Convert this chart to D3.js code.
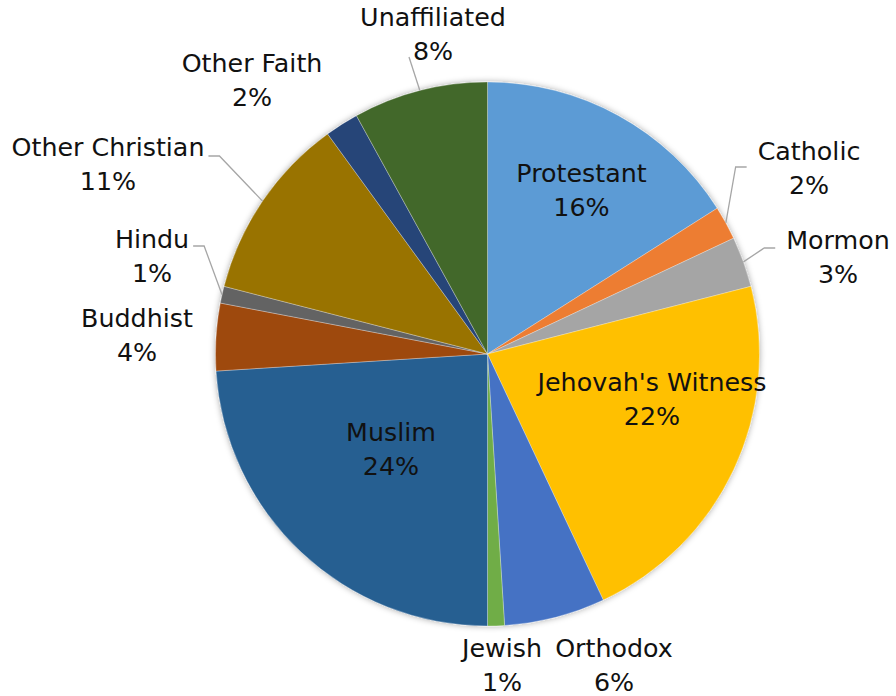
<!DOCTYPE html>
<html>
<head>
<meta charset="utf-8">
<script src="https://cdn.jsdelivr.net/npm/d3@7"></script>
<style>
  body { margin: 0; background: #fff; }
  svg { display: block; }
</style>
</head>
<body>
<svg id="canvas" width="896" height="696"></svg>
<script>
// chart data, clockwise from 12 o'clock
let categories = ["Protestant", "Catholic", "Mormon", "Jehovah's Witness", "Orthodox", "Jewish",
                  "Muslim", "Buddhist", "Hindu", "Other Christian", "Other Faith", "Unaffiliated"];
let shares = [16, 2, 3, 22, 6, 1, 24, 4, 1, 11, 2, 8];
let colors = ["#5b9bd5", "#ed7d31", "#a5a5a5", "#ffc000", "#4472c4", "#70ad47",
              "#255e91", "#9e480e", "#636363", "#997300", "#264478", "#43682b"];

// label placement relative to the pie centre (first-line baseline), leader side
let labelLayout = {
    "Protestant":        { dx: 94,     dy: -172 },
    "Catholic":          { dx: 321.5,  dy: -194, leader: 'left',  ly: 7 },
    "Mormon":            { dx: 350.5,  dy: -105, leader: 'left',  ly: -1 },
    "Jehovah's Witness": { dx: 164.5,  dy: 37 },
    "Orthodox":          { dx: 126.5,  dy: 303 },
    "Jewish":            { dx: 14.5,   dy: 303 },
    "Muslim":            { dx: -96.5,  dy: 87 },
    "Buddhist":          { dx: -350.5, dy: -27 },
    "Hindu":             { dx: -335.5, dy: -106, leader: 'right', ly: -2 },
    "Other Christian":   { dx: -379.5, dy: -198, leader: 'right', ly: 0 },
    "Other Faith":       { dx: -235.5, dy: -282 },
    "Unaffiliated":      { dx: -54.5,  dy: -328, leader: 'down' }
};

let cx = 487.5, cy = 354, radius = 272;
let lineGap = 34;
let fontFamily = "'DejaVu Sans', sans-serif";

let canvas = d3.select("#canvas");

let defs = canvas.append('defs');
defs.append('filter')
    .attr('id', 'shadow')
    .attr('x', '-10%').attr('y', '-10%')
    .attr('width', '120%').attr('height', '120%')
    .append('feDropShadow')
    .attr('dx', 0).attr('dy', 0)
    .attr('stdDeviation', 3)
    .attr('flood-color', '#000')
    .attr('flood-opacity', 0.35);

let slices = categories.map((name, i) => {
    return { name: name, value: shares[i], color: colors[i] };
});

let pie = d3.pie().sort(null).value((d) => d.value);
let arcs = pie(slices);

let arc = d3.arc().innerRadius(0).outerRadius(radius);
let edgeArc = d3.arc().innerRadius(radius).outerRadius(radius);

let chart = canvas.append('g')
    .attr('transform', 'translate(' + cx + ', ' + cy + ')');

chart.append('g')
    .attr('filter', 'url(#shadow)')
    .selectAll('path')
    .data(arcs)
    .enter()
    .append('path')
    .attr('d', arc)
    .attr('fill', (d) => d.data.color)
    .attr('stroke', '#ffffff')
    .attr('stroke-opacity', 0.5)
    .attr('stroke-width', 0.6);

// work out a font size that gives the label widths seen in the picture
let probe = canvas.append('text')
    .attr('font-family', fontFamily)
    .attr('font-size', 24)
    .text("Jehovah's Witness");
let fontSize = 24 * 229 / probe.node().getComputedTextLength();
probe.remove();

let labels = chart.append('g')
    .attr('font-family', fontFamily)
    .attr('font-size', fontSize)
    .attr('fill', '#111');

let leaders = chart.append('g')
    .attr('fill', 'none')
    .attr('stroke', '#a6a6a6')
    .attr('stroke-width', 1.3);

arcs.forEach((d) => {
    let pos = labelLayout[d.data.name];
    let label = labels.append('text')
        .attr('text-anchor', 'middle');
    label.append('tspan')
        .attr('x', pos.dx)
        .attr('y', pos.dy)
        .text(d.data.name);
    label.append('tspan')
        .attr('x', pos.dx)
        .attr('y', pos.dy + lineGap)
        .text(d.data.value + '%');

    if (!pos.leader) return;

    let end = edgeArc.centroid(d);
    let half = label.select('tspan').node().getComputedTextLength() / 2;
    let points;
    if (pos.leader === 'left') {
        let x0 = pos.dx - half - 11;
        points = [[x0, pos.dy + pos.ly], [x0 - 11, pos.dy + pos.ly], end];
    } else if (pos.leader === 'right') {
        let x0 = pos.dx + half + 4;
        points = [[x0, pos.dy + pos.ly], [x0 + 11, pos.dy + pos.ly], end];
    } else {
        points = [[pos.dx - 24, pos.dy + lineGap - 3], end];
    }
    leaders.append('path')
        .attr('d', d3.line()(points));
});
</script>
</body>
</html>
